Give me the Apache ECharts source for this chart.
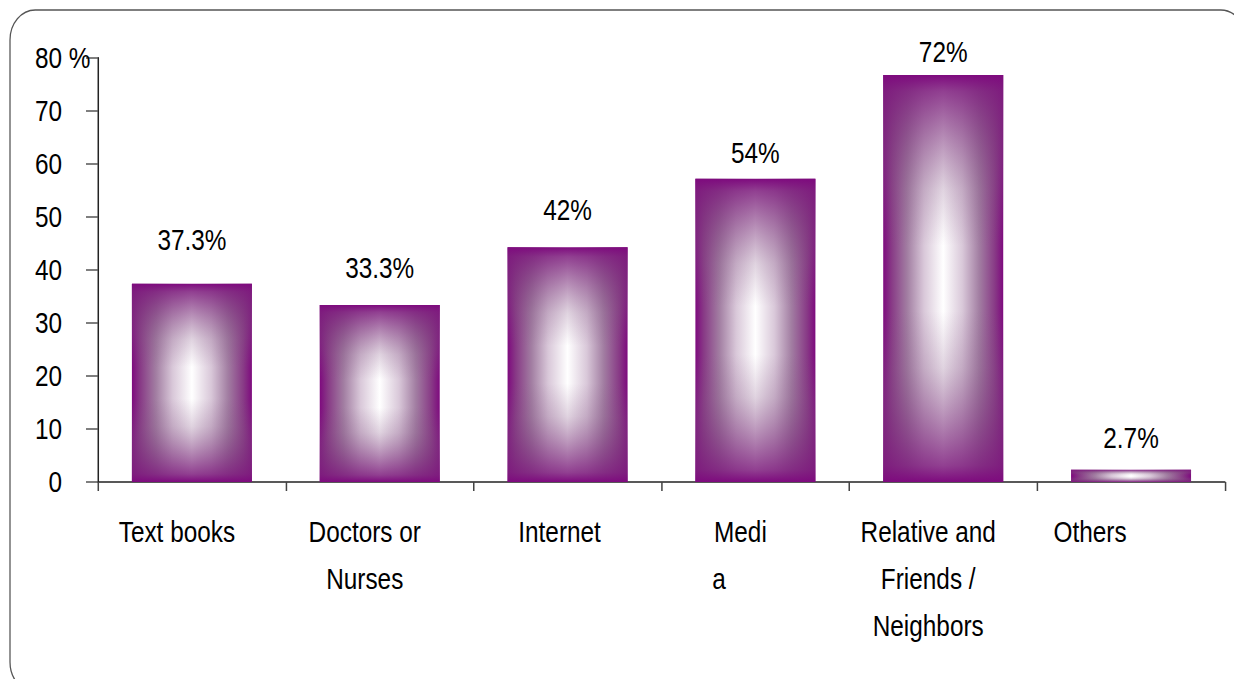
<!DOCTYPE html>
<html>
<head>
<meta charset="utf-8">
<script src="https://cdn.jsdelivr.net/npm/echarts@6/dist/echarts.min.js"></script>
<style>
html,body{margin:0;padding:0;background:#fff;overflow:hidden;}
#wrap{width:1234px;height:679px;overflow:hidden;position:relative;}
/* The reference uses a narrow (condensed) sans font; none is installed,
   so the chart is laid out wider and condensed horizontally. */
#c{width:1469px;height:679px;transform:scaleX(0.84);transform-origin:0 0;}
</style>
</head>
<body>
<div id="wrap"><div id="c"></div></div>
<script>
var categories = ['Text books', 'Doctors or\nNurses', 'Internet', 'Medi\na', 'Relative and\nFriends /\nNeighbors', 'Others'];
var barValues = [37.4, 33.4, 44.3, 57.2, 76.8, 2.3];
var labelTexts = ['37.3%', '33.3%', '42%', '54%', '72%', '2.7%'];
var labelAnchors = [45.7, 40.4, 51.3, 62.1, 81.1, 8.3];
var yTicks = [0, 10, 20, 30, 40, 50, 60, 70, 80];

var S = 0.84;              // horizontal condensing factor
var FONT = '"Liberation Sans", Arial, sans-serif';
var FS = 29;
var PURPLE = '#7e0a7e';

function px(v) { return v / S; }  // convert reference horizontal px to chart space

var chart = echarts.init(document.getElementById('c'), null, { renderer: 'svg' });
chart.setOption({
  animation: false,
  backgroundColor: '#fff',
  grid: { left: px(98), right: px(9), top: 58, bottom: 197, containLabel: false },
  xAxis: {
    type: 'category',
    data: categories,
    axisLine: { lineStyle: { color: '#222', width: 1.5 } },
    axisTick: { show: true, alignWithLabel: false, length: 9, lineStyle: { color: '#444', width: 1.8 } },
    axisLabel: {
      interval: 0,
      margin: 27,
      color: '#000',
      fontFamily: FONT,
      fontSize: FS,
      lineHeight: 47,
      formatter: function (v) {
        if (v === 'Medi\na') return '{m|Medi}\n{ma|a}';
        if (v === 'Others') return '{o|Others}';
        if (v === 'Internet') return '{i|Internet}';
        return v;
      },
      padding: [0, px(30), 0, 0],
      rich: {
        m: { fontFamily: FONT, fontSize: FS, lineHeight: 47, color: '#000', padding: [0, 0, 0, 0] },
        ma: { fontFamily: FONT, fontSize: FS, lineHeight: 47, color: '#000', padding: [0, 51, 0, 0] },
        i: { fontFamily: FONT, fontSize: FS, lineHeight: 47, color: '#000', padding: [0, 0, 0, px(14)] },
        o: { fontFamily: FONT, fontSize: FS, lineHeight: 47, color: '#000', padding: [0, px(52), 0, 0] }
      }
    }
  },
  yAxis: {
    type: 'value',
    min: 0,
    max: 80,
    interval: 10,
    splitLine: { show: false },
    axisLine: { show: true, lineStyle: { color: '#222', width: 1.8 } },
    axisTick: { show: true, inside: false, length: px(12), lineStyle: { color: '#555', width: 1.5 } },
    axisLabel: {
      align: 'left',
      margin: px(63),
      color: '#000',
      fontFamily: FONT,
      fontSize: FS,
      formatter: function (v) {
        if (v === 80) return '{n|80}{p| %}';
        return '{n|' + v + '}';
      },
      rich: {
        n: { fontFamily: FONT, fontSize: FS, color: '#000', width: px(27), align: 'right' },
        p: { fontFamily: FONT, fontSize: FS, color: '#000' }
      }
    }
  },
  series: [
    {
      type: 'bar',
      data: barValues,
      barWidth: px(120),
      itemStyle: {
        color: new echarts.graphic.LinearGradient(0, 0, 1, 0, [
          { offset: 0, color: PURPLE },
          { offset: 0.07, color: '#883a86' },
          { offset: 0.2, color: '#a27ea2' },
          { offset: 0.34, color: '#d9c8d9' },
          { offset: 0.5, color: '#ffffff' },
          { offset: 0.66, color: '#d9c8d9' },
          { offset: 0.8, color: '#a27ea2' },
          { offset: 0.93, color: '#883a86' },
          { offset: 1, color: PURPLE }
        ])
      },
      z: 2
    },
    {
      type: 'bar',
      data: barValues,
      barWidth: px(120),
      barGap: '-100%',
      itemStyle: {
        color: new echarts.graphic.LinearGradient(0, 0, 0, 1, [
          { offset: 0, color: 'rgba(126,10,126,1)' },
          { offset: 0.04, color: 'rgba(126,30,126,0.85)' },
          { offset: 0.14, color: 'rgba(126,50,126,0.6)' },
          { offset: 0.28, color: 'rgba(130,80,130,0.25)' },
          { offset: 0.42, color: 'rgba(130,80,130,0)' },
          { offset: 0.58, color: 'rgba(130,80,130,0)' },
          { offset: 0.72, color: 'rgba(130,80,130,0.25)' },
          { offset: 0.86, color: 'rgba(126,50,126,0.6)' },
          { offset: 0.96, color: 'rgba(126,30,126,0.85)' },
          { offset: 1, color: 'rgba(126,10,126,1)' }
        ])
      },
      z: 3
    },
    {
      type: 'scatter',
      data: labelAnchors,
      symbolSize: 0,
      clip: false,
      silent: true,
      itemStyle: { color: '#000', opacity: 1 },
      label: {
        show: true,
        position: 'inside',
        color: '#000',
        opacity: 1,
        textBorderWidth: 0,
        fontFamily: FONT,
        fontSize: FS,
        formatter: function (p) { return labelTexts[p.dataIndex]; }
      },
      z: 5
    }
  ],
  graphic: [
    {
      type: 'rect',
      shape: { x: px(10), y: 10, width: px(1236), height: 682, r: 30 },
      style: { fill: 'none', stroke: '#555', lineWidth: 1.5 },
      silent: true,
      z: 0
    }
  ]
});
</script>
</body>
</html>
